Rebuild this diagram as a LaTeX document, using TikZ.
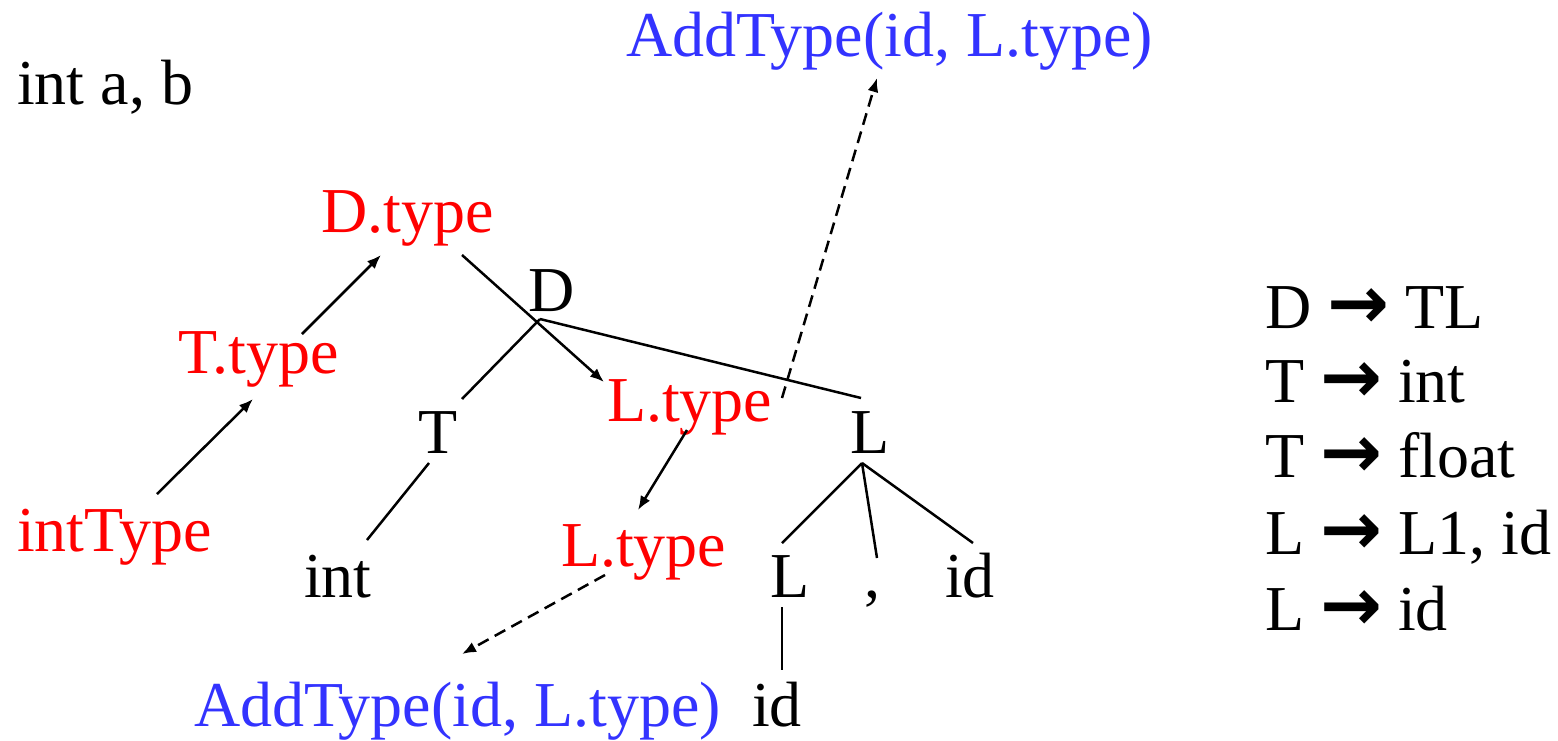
\documentclass[tikz,border=0pt]{standalone}
\usepackage{fontspec}
\setmainfont{Liberation Serif}
\newfontfamily\arrowfont{DejaVu Sans}
\usetikzlibrary{arrows.meta,calc}
\definecolor{attrred}{RGB}{255,0,0}
\definecolor{actblue}{RGB}{51,51,255}
\newcommand{\prodarrow}{{\arrowfont\bfseries\fontsize{74}{80}\selectfont →}}
\begin{document}
\begin{tikzpicture}[x=1pt,y=-1pt,
  font=\fontsize{64}{76}\selectfont,
  lbl/.style={inner sep=0pt,outer sep=0pt,anchor=base west},
  sym/.style={lbl,text=black},
  attr/.style={lbl,text=attrred},
  act/.style={lbl,text=actblue},
  edge/.style={line width=2.5pt},
  flow/.style={line width=2.5pt,-{Latex[length=14pt,width=11pt]}},
  call/.style={flow,dash pattern=on 12pt off 7pt}]
\useasboundingbox (0,0) rectangle (1558,740);

% source declaration
\node[sym] (src) at (17,104) {int a, b};

% parse tree symbols
\node[sym] (D)   at (528,311) {D};
\node[sym] (T)   at (418,453) {T};
\node[sym] (L)   at (850,453) {L};
\node[sym] (int) at (304,597) {int};
\node[sym] (L1)  at (770,597) {L};
\node[sym] (cm)  at (864,597) {,};
\node[sym] (id1) at (945,597) {id};
\node[sym] (id2) at (752,726) {id};

% attributes
\node[attr] (Dtype)  at (321,232) {D.type};
\node[attr] (Ttype)  at (178,373) {T.type};
\node[attr] (intT)   at (17,551)  {intType};
\node[attr] (Ltype)  at (607,421) {L.type};
\node[attr] (L1type) at (561,566) {L.type};

% semantic actions
\node[act] (addT) at (626,56)  {AddType(id, L.type)};
\node[act] (addB) at (194,726) {AddType(id, L.type)};

% grammar
\node[sym] (g1) at (1265,328) {D \prodarrow{} TL};
\node[sym] (g2) at (1265,402) {T \prodarrow{} int};
\node[sym] (g3) at (1265,477) {T \prodarrow{} float};
\node[sym] (g4) at (1265,554) {L \prodarrow{} L1, id};
\node[sym] (g5) at (1265,630) {L \prodarrow{} id};

% tree edges
\draw[edge] ($(D.base west)+(12,8)$) -- ($(T.base west)+(44,-54)$);
\draw[edge] ($(D.base west)+(12,8)$) -- ($(L.base west)+(11,-55)$);
\draw[edge] ($(T.base west)+(11,10)$) -- ($(int.base west)+(63,-57)$);
\draw[edge] ($(L.base west)+(12,10)$) -- ($(L1.base west)+(12,-54)$);
\draw[edge] ($(L.base west)+(12,10)$) -- ($(cm.base west)+(13,-39)$);
\draw[edge] ($(L.base west)+(12,10)$) -- ($(id1.base west)+(28,-54)$);
\draw[edge] ($(L1.base west)+(12,10)$) -- ($(id2.base west)+(30,-56)$);

% attribute flow
\draw[flow] ($(intT.base west)+(140,-57)$) -- ($(Ttype.base west)+(75,26)$);
\draw[flow] ($(Ttype.base west)+(124,-39)$) -- ($(Dtype.base west)+(60,23)$);
\draw[flow] ($(Dtype.base west)+(141,23)$) -- ($(Ltype.base west)+(-3,-39)$);
\draw[flow] ($(Ltype.base west)+(80,9)$) -- ($(L1type.base west)+(77,-56)$);

% calls of the semantic action
\draw[call] ($(Ltype.base west)+(175,-23)$) -- ($(addT.base west)+(251,22)$);
\draw[call] ($(L1type.base west)+(44,9)$) -- ($(addB.base west)+(268,-72)$);
\end{tikzpicture}
\end{document}
